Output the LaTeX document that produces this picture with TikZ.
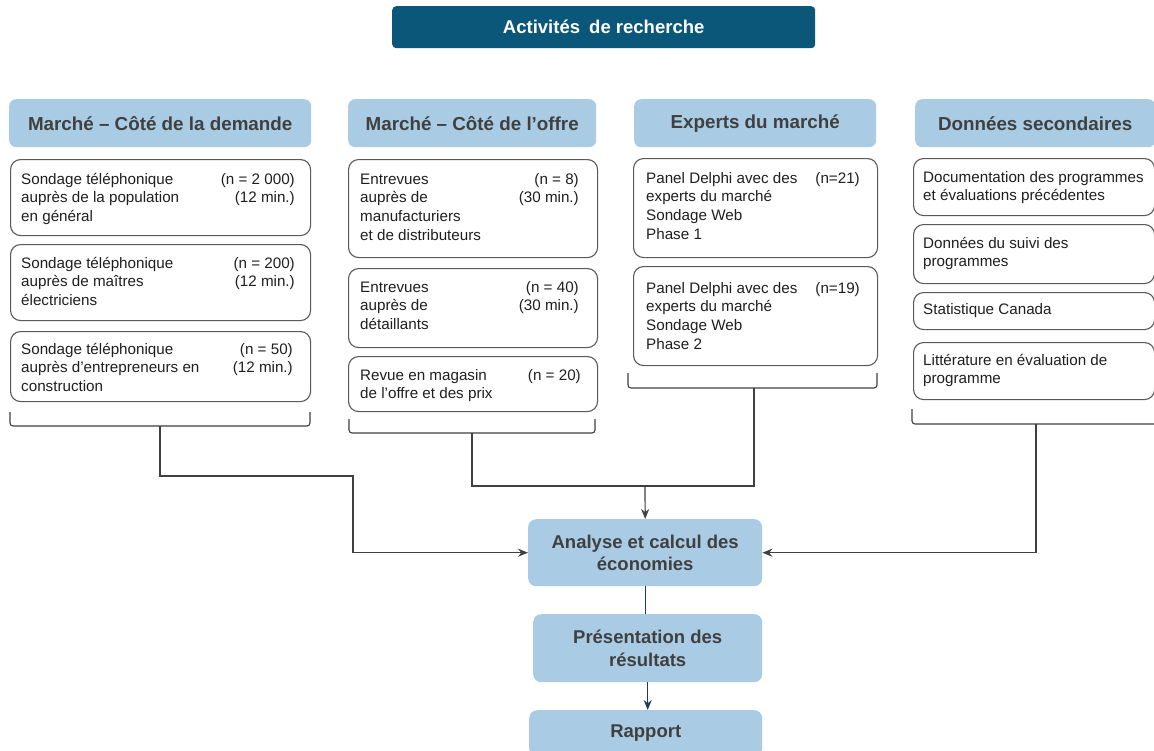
\documentclass[tikz,border=0pt]{standalone}
\usepackage{fontspec}
\setmainfont{Liberation Sans}
\usetikzlibrary{arrows.meta,calc}
\definecolor{titleblue}{HTML}{0B5779}
\definecolor{lightblue}{HTML}{A9CCE4}
\definecolor{hdrtext}{HTML}{404040}
\definecolor{boxline}{HTML}{5A5A5A}
\definecolor{navy}{HTML}{1F3B5C}
\definecolor{conn}{HTML}{404040}
\begin{document}
\begin{tikzpicture}[x=1pt,y=-1pt,
  titlebox/.style={fill=titleblue, rounded corners=4pt, inner sep=0pt, anchor=north west, text=white, font=\bfseries\fontsize{18.5}{21}\selectfont},
  hdr/.style={fill=lightblue, rounded corners=7pt, inner sep=0pt, anchor=north west, text=hdrtext, font=\bfseries\fontsize{18.8}{22}\selectfont},
  wbox/.style={draw=boxline, line width=1.1pt, fill=white, rounded corners=10pt, inner sep=0pt, anchor=north west},
  txt/.style={anchor=base west, align=left, inner sep=0pt, font=\fontsize{15.2}{18.7}\selectfont, text=black!88},
  rtxt/.style={anchor=base east, align=right, inner sep=0pt, font=\fontsize{15.2}{18.7}\selectfont, text=black!88},
  flow/.style={fill=lightblue, rounded corners=8pt, inner sep=0pt, anchor=north west, text=hdrtext, align=center, font=\bfseries\fontsize{18.5}{22.5}\selectfont},
  brace/.style={draw=conn, line width=1.1pt, rounded corners=3pt},
  link/.style={draw=conn, line width=1.2pt},
  arr/.style={link, -{Stealth[length=10pt,width=8pt]}},
  nlink/.style={draw=navy, line width=1.2pt},
  narr/.style={nlink, -{Stealth[length=10pt,width=8pt]}}
]
\clip (0,0) rectangle (1154,750);
\fill[white] (0,0) rectangle (1154,750);

% title
\node[titlebox, minimum width=423pt, minimum height=42pt] (title) at (392,6) {Activités\hspace{4pt} de recherche};

% headers
\node[hdr, minimum width=302pt, minimum height=48pt] (h1) at (9,99) {Marché – Côté de la demande};
\node[hdr, minimum width=248pt, minimum height=48pt] (h2) at (348,99) {Marché – Côté de l’offre};
\node[hdr, minimum width=242pt, minimum height=48pt] (h3) at (634,99) {Experts du marché};
\node[hdr, minimum width=240pt, minimum height=48pt] (h4) at (915,99) {Données secondaires};

% column 1 (text anchors are at the baseline of the LAST line)
\node[wbox, minimum width=300pt, minimum height=76pt] (d1) at (10,159) {};
\node[wbox, minimum width=300pt, minimum height=76pt] (d2) at (10,244) {};
\node[wbox, minimum width=300pt, minimum height=70pt] (d3) at (10,331) {};
\node[txt] (d1t) at (21,221.4) {Sondage téléphonique\\auprès de la population\\en général};
\node[rtxt] (d1r) at (295,202.7) {(n = 2 000)\\(12 min.)};
\node[txt] (d2t) at (21,305.4) {Sondage téléphonique\\auprès de maîtres\\électriciens};
\node[rtxt] (d2r) at (295,286.7) {(n = 200)\\(12 min.)};
\node[txt] (d3t) at (21,391.4) {Sondage téléphonique\\auprès d’entrepreneurs en\\construction};
\node[rtxt] (d3r) at (293,372.7) {(n = 50)\\(12 min.)};

% column 2
\node[wbox, minimum width=249pt, minimum height=98pt] (o1) at (348,159) {};
\node[wbox, minimum width=249pt, minimum height=79pt] (o2) at (348,268) {};
\node[wbox, minimum width=249pt, minimum height=55pt] (o3) at (348,356) {};
\node[txt] (o1t) at (360,240.1) {Entrevues\\auprès de\\manufacturiers\\et de distributeurs};
\node[rtxt] (o1r) at (579,202.7) {(n = 8)\\(30 min.)};
\node[txt] (o2t) at (360,329.4) {Entrevues\\auprès de\\détaillants};
\node[rtxt] (o2r) at (579,310.7) {(n = 40)\\(30 min.)};
\node[txt] (o3t) at (360,398.7) {Revue en magasin\\de l’offre et des prix};
\node[rtxt] (o3r) at (581,380) {(n = 20)};

% column 3
\node[wbox, minimum width=244pt, minimum height=99pt] (e1) at (633,158) {};
\node[wbox, minimum width=244pt, minimum height=99pt] (e2) at (633,266) {};
\node[txt] (e1t) at (646,239.1) {Panel Delphi avec des\\experts du marché\\Sondage Web\\Phase 1};
\node[rtxt] (e1r) at (860,183) {(n=21)};
\node[txt] (e2t) at (646,349.1) {Panel Delphi avec des\\experts du marché\\Sondage Web\\Phase 2};
\node[rtxt] (e2r) at (860,293) {(n=19)};

% column 4
\node[wbox, minimum width=241pt, minimum height=57pt] (s1) at (913,158) {};
\node[wbox, minimum width=241pt, minimum height=59pt] (s2) at (913,224) {};
\node[wbox, minimum width=241pt, minimum height=37pt] (s3) at (913,292) {};
\node[wbox, minimum width=241pt, minimum height=57pt] (s4) at (913,342) {};
\node[txt] (s1t) at (923,200.7) {Documentation des programmes\\et évaluations précédentes};
\node[txt] (s2t) at (923,266.7) {Données du suivi des\\programmes};
\node[txt] (s3t) at (923,314) {Statistique Canada};
\node[txt] (s4t) at (923,383.7) {Littérature en évaluation de\\programme};

% flow boxes
\node[flow, minimum width=234pt, minimum height=67pt] (an) at (528,519) {Analyse et calcul des\\économies};
\node[flow, minimum width=229pt, minimum height=68pt] (pr) at (533,614) {Présentation des\\résultats};
\node[flow, minimum width=233pt, minimum height=46pt] (ra) at (529,710) {Rapport};

% braces
\coordinate (b1) at (160,426);
\coordinate (b2) at (472,433);
\coordinate (b3) at (754,388);
\coordinate (b4) at (1036,424);
\coordinate (j2) at (645,486);
\draw[brace] (10,412) -- (10,426) -- (310,426) -- (310,412);
\draw[brace] (349,419) -- (349,433) -- (595,433) -- (595,419);
\draw[brace] (628,373) -- (628,388) -- (877,388) -- (877,373);
\draw[brace] (912,409) -- (912,424) -- (1160,424);

% connectors
\draw[arr] (b1) |- (353,476) |- (an.west);
\draw[link] (b2) |- (j2) -| (b3);
\draw[arr] (j2) -- (an.north);
\draw[arr] (b4) |- (an.east);
\draw[nlink] (an.south) -- (an.south |- pr.north);
\draw[narr] (pr.south) -- (pr.south |- ra.north);
\end{tikzpicture}
\end{document}
